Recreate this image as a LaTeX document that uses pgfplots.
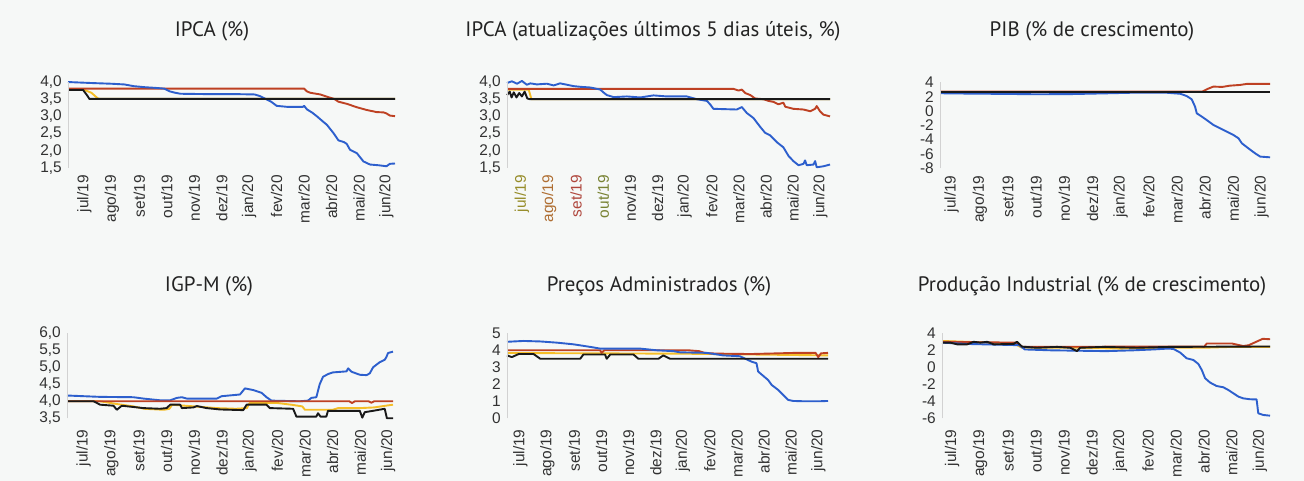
\documentclass[border=0pt]{standalone}
\usepackage{fontspec}
\setmainfont{Liberation Sans}
\newfontfamily\titlefont{PT Sans}
\usepackage{pgfplots}
\pgfplotsset{compat=1.18}
\definecolor{cblue}{RGB}{45,95,205}
\definecolor{cred}{RGB}{190,65,35}
\definecolor{cyel}{RGB}{245,190,40}
\definecolor{cblk}{RGB}{25,25,25}
\definecolor{ctxt}{RGB}{50,50,50}
\definecolor{ttxt}{RGB}{35,35,35}
\definecolor{bg}{RGB}{246,248,247}
\definecolor{m1}{RGB}{150,140,40}
\definecolor{m2}{RGB}{175,110,50}
\definecolor{m3}{RGB}{175,70,60}
\definecolor{m4}{RGB}{120,130,50}
\pgfplotsset{
  panel/.style={
    scale only axis,
    axis line style={draw=none},
    major tick length=0pt,
    tick style={draw=none},
    xtick={0,1,2,3,4,5,6,7,8,9,10,11},
    xticklabels={jul/19,ago/19,set/19,out/19,nov/19,dez/19,jan/20,fev/20,mar/20,abr/20,mai/20,jun/20},
    xticklabel style={rotate=90, anchor=east, inner sep=0pt, font=\fontsize{15.5}{15.5}\selectfont, text=ctxt},
    xticklabel shift=7bp,
    yticklabel style={anchor=east, inner sep=0pt, font=\fontsize{15.5}{15.5}\selectfont, text=ctxt},
    yticklabel shift=6bp,
    extra description/.code={\draw[gray!35, line width=0.6bp] (0,0)--(0,1);},
    every axis plot/.append style={line width=1.9bp, line join=round, no marks},
    clip=false,
  },
  lowrow/.style={xticklabel shift=11bp},
}
\begin{document}
\begin{tikzpicture}[x=1bp,y=1bp]
\fill[bg] (0,0) rectangle (1304,481);
\useasboundingbox (0,0) rectangle (1304,481);
\tikzset{ttl/.style={anchor=base, font=\titlefont\fontsize{21}{21}\selectfont, text=ttxt}}
\node[ttl] at (212,444) {IPCA (\%)};
\node[ttl] at (653,444) {IPCA (atualizações últimos 5 dias úteis, \%)};
\node[ttl] at (1092,444) {PIB (\% de crescimento)};
\node[ttl] at (209,189) {IGP-M (\%)};
\node[ttl] at (659,189) {Preços Administrados (\%)};
\node[ttl] at (1092,189) {Produção Industrial (\% de crescimento)};

% Panel 1: IPCA
\begin{axis}[panel, at={(68bp,313bp)}, anchor=south west, width=327bp, height=86.3bp,
  xmin=-0.6, xmax=11.31, ymin=1.5, ymax=4.0,
  ytick={1.5,2,2.5,3,3.5,4}, yticklabels={{1,5},{2,0},{2,5},{3,0},{3,5},{4,0}}]
\addplot[cyel] coordinates {(-0.60,3.76) (0.0,3.76) (0.25,3.68) (0.48,3.52) (0.55,3.50) (11.31,3.50)};
\addplot[cred] coordinates {(-0.60,3.80) (8.0,3.80) (8.1,3.72) (8.22,3.68) (8.59,3.63) (8.89,3.55) (9.1,3.50) (9.25,3.42) (9.55,3.36) (9.92,3.26) (10.28,3.18) (10.64,3.12) (10.9,3.11) (11.0,3.08) (11.12,3.02) (11.31,3.00)};
\addplot[cblue] coordinates {(-0.60,3.99) (0.3,3.96) (1.0,3.94) (1.45,3.92) (1.8,3.87) (2.2,3.84) (2.6,3.82) (2.9,3.80) (3.1,3.72) (3.3,3.68) (3.5,3.65) (4.5,3.64) (5.5,3.64) (6.2,3.63) (6.4,3.58) (6.6,3.50) (6.8,3.42) (7.0,3.30) (7.4,3.27) (7.95,3.27) (8.0,3.30) (8.1,3.20) (8.3,3.10) (8.46,3.00) (8.65,2.87) (8.83,2.75) (9.07,2.51) (9.25,2.30) (9.45,2.25) (9.55,2.20) (9.67,2.03) (9.92,1.93) (10.16,1.69) (10.40,1.60) (10.7,1.58) (11.0,1.55) (11.12,1.62) (11.31,1.63)};
\addplot[cblk] coordinates {(-0.60,3.76) (-0.05,3.76) (0.1,3.60) (0.18,3.50) (11.31,3.50)};
\end{axis}

% Panel 2: IPCA 5 dias
\begin{axis}[panel, at={(507bp,313bp)}, anchor=south west, width=323bp, height=86bp,
  xmin=-0.55, xmax=11.36, ymin=1.5, ymax=4.0,
  ytick={1.5,2,2.5,3,3.5,4}, yticklabels={{1,5},{2,0},{2,5},{3,0},{3,5},{4,0}},
  xticklabels={\textcolor{m1}{jul/19},\textcolor{m2}{ago/19},\textcolor{m3}{set/19},\textcolor{m4}{out/19},nov/19,dez/19,jan/20,fev/20,mar/20,abr/20,mai/20,jun/20}]
\addplot[cyel] coordinates {(-0.55,3.78) (0.25,3.78) (0.35,3.50) (11.36,3.50)};
\addplot[cred] coordinates {(-0.55,3.80) (7.8,3.80) (7.99,3.75) (8.11,3.78) (8.23,3.68) (8.42,3.62) (8.6,3.52) (8.91,3.50) (9.09,3.45) (9.28,3.42) (9.46,3.35) (9.64,3.40) (9.71,3.28) (10.01,3.22) (10.38,3.20) (10.63,3.15) (10.81,3.22) (10.87,3.30) (10.99,3.15) (11.12,3.05) (11.36,3.00)};
\addplot[cblue] coordinates {(-0.55,3.97) (-0.37,4.02) (-0.18,3.95) (0.0,4.03) (0.18,3.92) (0.31,3.96) (0.55,3.93) (0.92,3.95) (1.17,3.90) (1.41,3.96) (1.66,3.92) (1.9,3.88) (2.15,3.86) (2.52,3.84) (2.89,3.78) (3.0,3.70) (3.13,3.62) (3.38,3.56) (3.87,3.58) (4.36,3.55) (4.85,3.61) (5.34,3.58) (6.08,3.58) (6.45,3.50) (6.82,3.45) (6.94,3.35) (7.06,3.22) (7.92,3.20) (8.11,3.27) (8.29,3.10) (8.54,2.95) (8.78,2.70) (8.97,2.52) (9.15,2.45) (9.40,2.25) (9.64,2.10) (9.83,1.85) (10.01,1.70) (10.2,1.58) (10.38,1.62) (10.44,1.72) (10.5,1.58) (10.75,1.60) (10.81,1.70) (10.87,1.52) (11.12,1.55) (11.36,1.60)};
\addplot[cblk] coordinates {(-0.55,3.62) (-0.45,3.72) (-0.38,3.55) (-0.3,3.70) (-0.2,3.55) (-0.1,3.68) (0.0,3.58) (0.1,3.72) (0.2,3.52) (0.3,3.50) (11.36,3.50)};
\end{axis}

% Panel 3: PIB
\begin{axis}[panel, at={(940bp,312.7bp)}, anchor=south west, width=330bp, height=86bp,
  xmin=-0.41, xmax=11.3, ymin=-8, ymax=4,
  ytick={-8,-6,-4,-2,0,2,4}, yticklabels={-8,-6,-4,-2,0,2,4}]
\addplot[cyel] coordinates {(-0.41,2.72) (11.3,2.72)};
\addplot[cred] coordinates {(-0.41,2.70) (8.9,2.70) (9.0,2.90) (9.1,3.10) (9.29,3.40) (9.6,3.35) (9.88,3.53) (10.24,3.63) (10.47,3.77) (11.3,3.77)};
\addplot[cblue] coordinates {(-0.41,2.47) (0.6,2.42) (1.8,2.38) (3.0,2.33) (4.2,2.35) (5.4,2.45) (6.5,2.55) (7.6,2.55) (7.87,2.47) (8.11,2.40) (8.34,2.09) (8.52,1.63) (8.64,0.60) (8.70,-0.33) (8.88,-0.79) (9.05,-1.26) (9.29,-1.95) (9.53,-2.42) (9.76,-2.88) (10.0,-3.35) (10.18,-3.81) (10.30,-4.51) (10.53,-5.21) (10.77,-5.91) (10.95,-6.37) (11.3,-6.47)};
\addplot[cblk] coordinates {(-0.41,2.70) (11.3,2.70)};
\end{axis}

% Panel 4: IGP-M
\begin{axis}[panel, lowrow, at={(67bp,62.7bp)}, anchor=south west, width=326bp, height=85bp,
  xmin=-0.6, xmax=11.18, ymin=3.5, ymax=6.0,
  ytick={3.5,4,4.5,5,5.5,6}, yticklabels={{3,5},{4,0},{4,5},{5,0},{5,5},{6,0}}]
\addplot[cyel] coordinates {(-0.6,4.0) (0.6,4.0) (1.2,3.92) (1.8,3.85) (2.2,3.78) (2.9,3.75) (3.1,3.78) (3.2,3.9) (3.5,3.88) (4.0,3.85) (4.8,3.8) (5.5,3.78) (5.9,3.8) (6.0,3.95) (7.0,3.95) (7.5,3.9) (7.9,3.85) (8.0,3.75) (9.0,3.75) (9.2,3.8) (10.0,3.8) (10.5,3.82) (11.0,3.88) (11.18,3.9)};
\addplot[cblue] coordinates {(-0.60,4.17) (0.60,4.13) (1.80,4.12) (2.16,4.08) (2.76,4.03) (3.13,4.03) (3.37,4.10) (3.55,4.12) (3.73,4.08) (4.81,4.08) (4.99,4.15) (5.65,4.20) (5.83,4.38) (6.13,4.33) (6.43,4.25) (6.61,4.12) (6.79,4.02) (7.81,4.0) (8.11,4.02) (8.23,4.10) (8.41,4.12) (8.53,4.5) (8.65,4.72) (8.83,4.8) (9.01,4.85) (9.50,4.88) (9.56,4.97) (9.68,4.87) (9.98,4.78) (10.22,4.77) (10.34,4.82) (10.46,5.0) (10.70,5.15) (10.88,5.22) (10.94,5.30) (11.0,5.42) (11.18,5.46)};
\addplot[cred] coordinates {(-0.6,4.0) (6.8,4.0) (7.81,4.0) (9.6,4.0) (9.7,3.95) (9.8,4.0) (10.3,4.0) (10.4,3.96) (10.5,4.0) (11.18,4.0)};
\addplot[cblk] coordinates {(-0.6,4.0) (0.36,4.0) (0.6,3.9) (1.08,3.87) (1.2,3.75) (1.38,3.87) (2.16,3.8) (2.76,3.78) (3.0,3.8) (3.13,3.9) (3.49,3.9) (3.55,3.8) (3.97,3.82) (4.09,3.86) (4.45,3.8) (4.93,3.76) (5.77,3.74) (5.89,3.9) (6.61,3.9) (6.73,3.8) (7.57,3.78) (7.69,3.55) (8.41,3.55) (8.47,3.65) (8.56,3.55) (8.77,3.55) (8.83,3.72) (9.98,3.72) (10.07,3.52) (10.16,3.68) (10.46,3.72) (10.88,3.78) (10.96,3.5) (11.18,3.5)};
\end{axis}

% Panel 5: Precos Administrados
\begin{axis}[panel, lowrow, at={(507bp,62.7bp)}, anchor=south west, width=321bp, height=85bp,
  xmin=-0.49, xmax=11.36, ymin=0, ymax=5,
  ytick={0,1,2,3,4,5}, yticklabels={0,1,2,3,4,5}]
\addplot[cyel] coordinates {(-0.49,3.84) (6.0,3.80) (11.36,3.70)};
\addplot[cred] coordinates {(-0.49,4.0) (2.95,4.0) (3.0,3.85) (3.1,4.0) (6.2,4.0) (6.6,3.95) (6.8,3.85) (7.0,3.82) (7.5,3.8) (8.5,3.78) (9.5,3.82) (10.2,3.85) (10.9,3.85) (11.0,3.6) (11.1,3.82) (11.36,3.85)};
\addplot[cblue] coordinates {(-0.49,4.5) (0.12,4.55) (0.74,4.52) (1.35,4.45) (1.97,4.35) (2.58,4.2) (2.95,4.1) (4.42,4.1) (5.04,4.0) (5.65,3.95) (5.9,3.88) (6.88,3.85) (7.49,3.7) (8.11,3.65) (8.54,3.33) (8.72,3.24) (8.78,2.75) (9.15,2.25) (9.28,1.96) (9.52,1.67) (9.71,1.37) (9.89,1.08) (10.08,1.02) (10.5,1.0) (11.0,1.0) (11.36,1.02)};
\addplot[cblk] coordinates {(-0.49,3.7) (-0.31,3.6) (-0.06,3.78) (0.49,3.78) (0.74,3.5) (2.21,3.5) (2.33,3.75) (3.13,3.75) (3.19,3.5) (3.32,3.75) (4.18,3.75) (4.36,3.5) (5.1,3.5) (5.28,3.7) (5.53,3.5) (11.36,3.5)};
\end{axis}

% Panel 6: Producao Industrial
\begin{axis}[panel, lowrow, at={(942bp,62.7bp)}, anchor=south west, width=328bp, height=85bp,
  xmin=-0.36, xmax=11.36, ymin=-6, ymax=4,
  ytick={-6,-4,-2,0,2,4}, yticklabels={-6,-4,-2,0,2,4}]
\addplot[cyel] coordinates {(-0.36,3.1) (0.5,3.0) (1.3,2.9) (2.2,2.8) (2.5,2.3) (4.5,2.3) (6.0,2.2) (8.0,2.3) (9.0,2.3) (10.0,2.4) (11.36,2.4)};
\addplot[cred] coordinates {(-0.36,3.0) (2.3,2.9) (2.5,2.4) (8.9,2.45) (9.0,2.4) (9.1,2.8) (10.0,2.8) (10.2,2.65) (10.4,2.5) (10.6,2.6) (10.8,2.9) (11.0,3.2) (11.1,3.35) (11.36,3.3)};
\addplot[cblue] coordinates {(-0.36,2.9) (0.5,2.75) (2.4,2.6) (2.6,2.1) (3.5,2.0) (4.5,1.95) (5.5,1.9) (6.5,2.0) (7.2,2.1) (7.7,2.2) (7.91,2.16) (8.15,1.73) (8.38,1.06) (8.62,0.86) (8.8,0.39) (8.92,-0.31) (9.04,-1.29) (9.22,-1.8) (9.45,-2.2) (9.69,-2.35) (9.87,-2.67) (10.05,-3.06) (10.23,-3.45) (10.4,-3.65) (10.64,-3.76) (10.88,-3.78) (10.94,-5.41) (11.12,-5.61) (11.36,-5.69)};
\addplot[cblk] coordinates {(-0.36,2.9) (-0.06,2.9) (0.18,2.7) (0.54,2.7) (0.77,3.0) (1.01,2.9) (1.25,3.0) (1.49,2.7) (2.2,2.75) (2.32,3.0) (2.5,2.43) (3.03,2.3) (3.75,2.4) (4.22,2.3) (4.46,1.9) (4.58,2.3) (5.41,2.4) (6.6,2.3) (7.79,2.4) (11.36,2.45)};
\end{axis}
\end{tikzpicture}
\end{document}
